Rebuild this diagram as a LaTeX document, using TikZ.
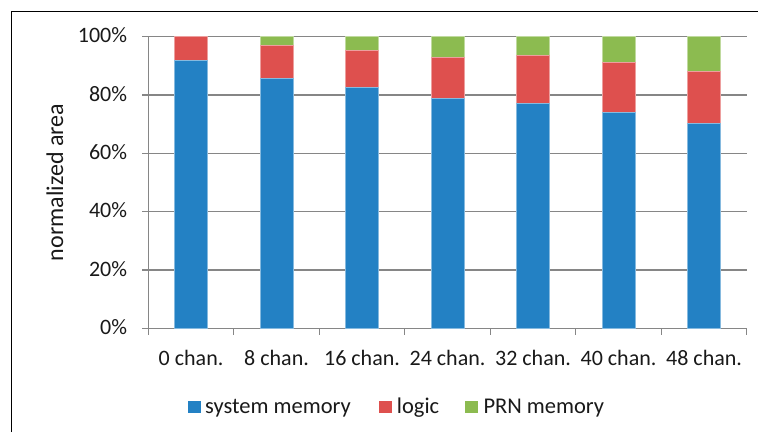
\documentclass[tikz,border=0pt]{standalone}
\usepackage{fontspec}
\setmainfont{Carlito}
\usetikzlibrary{positioning}
\definecolor{sysblue}{RGB}{35,129,196}
\definecolor{logicred}{RGB}{222,80,78}
\definecolor{prngreen}{RGB}{140,187,80}
\definecolor{gridgray}{RGB}{134,134,134}

\begin{document}
\begin{tikzpicture}[
    x=1pt, y=1pt,
    gridline/.style={gridgray, line width=1.3pt},
    segment/.style={fill=#1, draw=#1!55!white, line width=0.6pt},
    chartfont/.style={font=\fontsize{22}{26}\selectfont, text=black!90, inner sep=0pt},
    keybox/.style={fill=#1, minimum width=13pt, minimum height=12pt, inner sep=0pt}
]
\useasboundingbox (0,0) rectangle (758,432);

% outer frame (only top and left edges are visible)
\draw[line width=1.3pt] (11.5,0) |- (758,420.5);

% plot area: one x unit per category, one y unit per percent
\begin{scope}[shift={(148.3,103.7)}, x=85.5pt, y=2.916pt]
  % gridlines, y ticks and axes
  \foreach \v in {0,20,...,100}
    \draw[gridline] ([xshift=-6.3pt]0,\v) -- (7,\v);
  \draw[gridline] (0,0) -- (0,100);
  \foreach \k in {0,...,7}
    \draw[gridline] (\k,0) -- ([yshift=-6.7pt]\k,0);

  % y tick labels
  \foreach \v in {0,20,...,100}
    \node[chartfont, anchor=base east] (tick\v) at ([xshift=-21pt,yshift=-6.3pt]0,\v) {\v\%};

  % stacked bars: PRN memory on top, logic in the middle, system memory below
  \foreach \i/\c/\s/\l in {0/0/92/100, 1/8/85.6/97, 2/16/82.5/95.5, 3/24/78.9/93,
                           4/32/77.3/93.5, 5/40/74/91.2, 6/48/70.2/88} {
    \filldraw[segment=prngreen] (\i+0.305,0) rectangle (\i+0.695,100);
    \filldraw[segment=logicred] (\i+0.305,0) rectangle (\i+0.695,\l);
    \filldraw[segment=sysblue]  (\i+0.305,0) rectangle (\i+0.695,\s);
    \node[chartfont, anchor=base] (cat\i) at ([yshift=-36.7pt]\i+0.5,0) {\c\ chan.};
  }
\end{scope}

% axis title
\node[chartfont, font=\fontsize{24}{28}\selectfont, rotate=90, anchor=base] (ytitle) at (63,249.5) {normalized area};

% legend
\node[keybox=sysblue]   (keysys)   at (194,25.3) {};
\node[keybox=logicred]  (keylogic) at (385.7,25.3) {};
\node[keybox=prngreen]  (keyprn)   at (471.3,25.3) {};
\node[chartfont, font=\fontsize{22.5}{26}\selectfont, anchor=base west] (labsys)   at (205,18.7)   {system memory};
\node[chartfont, font=\fontsize{22.5}{26}\selectfont, anchor=base west] (lablogic) at (396.7,18.7) {logic};
\node[chartfont, font=\fontsize{22.5}{26}\selectfont, anchor=base west] (labprn)   at (483.3,18.7) {PRN memory};

\end{tikzpicture}
\end{document}
